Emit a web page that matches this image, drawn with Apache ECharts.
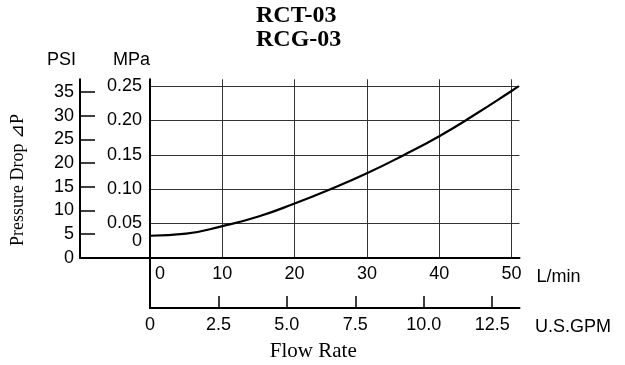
<!DOCTYPE html>
<html>
<head>
<meta charset="utf-8">
<script src="https://cdn.jsdelivr.net/npm/echarts@6/dist/echarts.min.js"></script>
<style>
html,body{margin:0;padding:0;background:#fff;}
#c{width:625px;height:365px;}
</style>
</head>
<body>
<div id="c"></div>
<script>
// ---- data ----
const titleLines = ['RCT-03', 'RCG-03'];
const flowLmin = [0, 5, 10, 15, 20, 25, 30, 35, 40, 45, 50, 51];
const dropMPa = [0.032, 0.035, 0.046, 0.060, 0.079, 0.100, 0.123, 0.149, 0.177, 0.209, 0.243, 0.250];
const lminLabels = [0, 10, 20, 30, 40, 50];
const mpaLabels = [0.05, 0.10, 0.15, 0.20, 0.25];
const mpaZeroLabel = [0];
const psiLabels = [0, 5, 10, 15, 20, 25, 30, 35];
const gpmLabels = [0, 2.5, 5.0, 7.5, 10.0, 12.5];
const gpmTicks = [2.5, 5.0, 7.5, 10.0, 12.5];

// ---- scales ----
const LMIN_MAX = 51.1;
const MPA_MAX = 0.26;
const GPM_PER_LMIN = 1 / 3.78541;
const PSI_PER_MPA = 145.038;

const SANS = 'Liberation Sans';
const SERIF = 'Liberation Serif';
const black = '#000';
const axisLine = { show: true, onZero: false, lineStyle: { color: black, width: 2 } };
const hidden = { show: false };
const labelBase = { fontFamily: SANS, fontSize: 18, color: black };

const chart = echarts.init(document.getElementById('c'), null, { renderer: 'canvas' });

chart.setOption({
  animation: false,
  backgroundColor: '#fff',
  title: {
    text: titleLines.join('\n'),
    left: 256, top: 4, padding: 0,
    textStyle: { fontFamily: SERIF, fontWeight: 'bold', fontSize: 24, lineHeight: 24, color: black }
  },
  grid: [
    { left: 150, right: 105.5, top: 79.3, bottom: 107.3 },
    { left: 150, right: 105.5, top: 257.7, bottom: 57 },
    { left: 80, width: 70, top: 79.3, bottom: 107.3 }
  ],
  xAxis: [
    {
      gridIndex: 0, type: 'value', min: 0, max: LMIN_MAX, interval: 10,
      axisLine: axisLine, axisTick: hidden,
      axisLabel: Object.assign({}, labelBase, {
        customValues: lminLabels, margin: 7, showMinLabel: true, hideOverlap: false,
        formatter: v => v === 0 ? '{z|0}' : String(v),
        rich: { z: { fontFamily: SANS, fontSize: 18, color: black, padding: [0, 0, 0, 20] } }
      }),
      splitLine: { show: true, showMaxLine: false, lineStyle: { color: '#333', width: 1 } },
      name: 'L/min', nameLocation: 'end', nameGap: 17,
      nameTextStyle: Object.assign({}, labelBase, { verticalAlign: 'top', lineHeight: 38 })
    },
    {
      gridIndex: 1, type: 'value', position: 'bottom', min: 0, max: LMIN_MAX * GPM_PER_LMIN, interval: 2.5,
      axisLine: axisLine,
      axisTick: { show: true, inside: true, length: 12, customValues: gpmTicks, lineStyle: { color: black, width: 1.5 } },
      axisLabel: Object.assign({}, labelBase, {
        customValues: gpmLabels, margin: 8,
        formatter: v => v === 0 ? '0' : v.toFixed(1)
      }),
      splitLine: hidden,
      name: 'U.S.GPM', nameLocation: 'end', nameGap: 15.5,
      nameTextStyle: Object.assign({}, labelBase, { verticalAlign: 'top', lineHeight: 38 })
    },
    {
      gridIndex: 1, type: 'value', position: 'bottom', min: 0, max: 1,
      axisLine: hidden, axisTick: hidden, axisLabel: hidden, splitLine: hidden,
      name: 'Flow Rate', nameLocation: 'middle', nameGap: 33,
      nameTextStyle: { fontFamily: SERIF, fontSize: 21, lineHeight: 21, color: black, padding: [0, 43, 0, 0] }
    },
    {
      gridIndex: 2, type: 'value', position: 'bottom', min: 0, max: 1,
      axisLine: axisLine, axisTick: hidden, axisLabel: hidden, splitLine: hidden
    }
  ],
  yAxis: [
    {
      gridIndex: 0, type: 'value', position: 'left', min: 0, max: MPA_MAX, interval: 0.05,
      axisLine: axisLine, axisTick: hidden,
      axisLabel: Object.assign({}, labelBase, {
        customValues: mpaLabels, margin: 8,
        formatter: v => v.toFixed(2)
      }),
      splitLine: { show: true, showMaxLine: false, lineStyle: { color: '#333', width: 1 } },
      name: 'MPa', nameLocation: 'end', nameGap: 19,
      nameTextStyle: Object.assign({}, labelBase, { align: 'right', verticalAlign: 'middle' })
    },
    {
      gridIndex: 1, type: 'value', position: 'left', min: 0, max: 1,
      axisLine: axisLine, axisTick: hidden, axisLabel: hidden, splitLine: hidden
    },
    {
      gridIndex: 2, type: 'value', position: 'left', min: 0, max: MPA_MAX * PSI_PER_MPA, interval: 5,
      axisLine: axisLine,
      axisTick: { show: true, inside: true, length: 15, customValues: psiLabels, lineStyle: { color: black, width: 1.5 } },
      axisLabel: Object.assign({}, labelBase, { customValues: psiLabels, margin: 6 }),
      splitLine: hidden,
      name: 'PSI', nameLocation: 'end', nameGap: 19,
      nameTextStyle: Object.assign({}, labelBase, { align: 'right', verticalAlign: 'middle', padding: [0, 4, 0, 0] })
    },
    {
      gridIndex: 2, type: 'value', position: 'left', min: 0, max: 1,
      axisLine: hidden, axisTick: hidden, axisLabel: hidden, splitLine: hidden,
      name: 'Pressure Drop \u22BFP', nameLocation: 'middle', nameGap: 53,
      nameTextStyle: { fontFamily: SERIF, fontSize: 18, color: black, padding: [0, 23, 0, 0] }
    },
    {
      gridIndex: 0, type: 'value', position: 'left', min: 0, max: MPA_MAX, interval: 0.05,
      axisLine: hidden, axisTick: hidden, splitLine: hidden,
      axisLabel: Object.assign({}, labelBase, {
        customValues: mpaZeroLabel, margin: 8, showMinLabel: true,
        formatter: () => '{z|0}',
        rich: { z: { fontFamily: SANS, fontSize: 18, color: black, padding: [0, 0, 34, 0] } }
      })
    }
  ],
  series: [
    {
      type: 'line', xAxisIndex: 0, yAxisIndex: 0,
      data: flowLmin.map((f, i) => [f, dropMPa[i]]),
      smooth: true, symbol: 'none',
      lineStyle: { color: black, width: 2.2 }
    }
  ]
});
</script>
</body>
</html>
